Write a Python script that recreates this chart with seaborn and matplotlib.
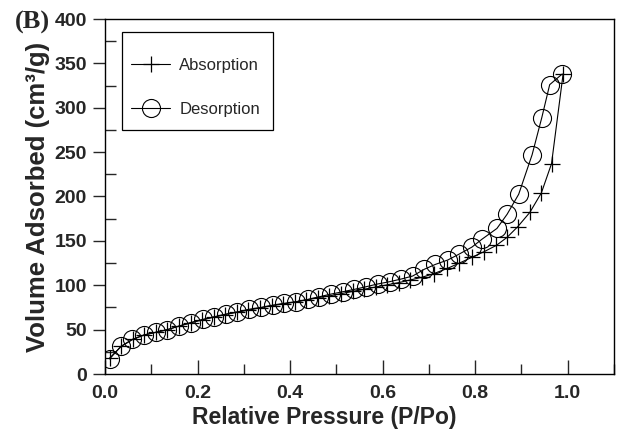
import matplotlib
matplotlib.use("Agg")
import matplotlib.pyplot as plt
import seaborn as sns
import pandas as pd
from matplotlib.ticker import MultipleLocator
from matplotlib.patches import Rectangle

# Data
abs_x = [0.01, 0.035, 0.06, 0.085, 0.11, 0.135, 0.16, 0.185, 0.21, 0.235,
         0.26, 0.285, 0.31, 0.335, 0.36, 0.385, 0.41, 0.435, 0.46, 0.485,
         0.51, 0.535, 0.56, 0.585, 0.61, 0.635, 0.66, 0.685, 0.71, 0.74,
         0.766, 0.793, 0.82, 0.846, 0.869, 0.892, 0.918, 0.943, 0.965, 0.99]
abs_y = [18, 31, 39, 44, 47, 50, 54, 57.5, 61, 64,
         67, 69.5, 72, 74.5, 77, 79, 81, 83.5, 86, 88,
         90.5, 93, 95.5, 98, 100.5, 103, 106, 109, 113, 119,
         125, 131.5, 138, 145, 154, 166, 182, 204, 237, 338]

des_x = [0.01, 0.034, 0.059, 0.084, 0.11, 0.135, 0.16, 0.185, 0.211, 0.236,
         0.261, 0.286, 0.312, 0.337, 0.362, 0.387, 0.413, 0.438, 0.463, 0.488,
         0.514, 0.539, 0.564, 0.589, 0.615, 0.64, 0.665, 0.69, 0.714, 0.741,
         0.765, 0.793, 0.815, 0.847, 0.869, 0.894, 0.923, 0.944, 0.961, 0.988]
des_y = [17, 31, 39, 44, 47, 50, 54, 58, 61.5, 64.5,
         67.5, 70, 73, 75, 77.5, 79.6, 81.5, 84, 87, 90,
         92.7, 95.4, 98.3, 101.4, 104, 107, 110.4, 118, 123.5, 128.5,
         135, 143, 152, 164, 180, 202.5, 247, 289, 326, 338]

series_labels = ["Absorption", "Desorption"]
x_label = "Relative Pressure (P/Po)"
y_label = "Volume Adsorbed (cm³/g)"
panel_label = "(B)"

df_abs = pd.DataFrame({"x": abs_x, "y": abs_y})
df_des = pd.DataFrame({"x": des_x, "y": des_y})

sns.set_style("ticks")
plt.rcParams["font.family"] = ["Liberation Sans", "DejaVu Sans"]

fig = plt.figure(figsize=(6.18, 4.36), dpi=100)
ax = fig.add_axes([105 / 618, 1 - 374 / 436, 509 / 618, 355 / 436])

sns.lineplot(data=df_abs, x="x", y="y", ax=ax, color="black", lw=0.8,
             marker="+", markersize=11, markeredgewidth=0.9,
             markeredgecolor="black",
             label=series_labels[0], errorbar=None)
sns.lineplot(data=df_des, x="x", y="y", ax=ax, color="black", lw=0.8,
             marker="o", markersize=13, markerfacecolor="none",
             markeredgecolor="black", markeredgewidth=0.8,
             label=series_labels[1], errorbar=None)

ax.set_xlim(0, 1.1)
ax.set_ylim(0, 400)
ax.xaxis.set_major_locator(MultipleLocator(0.2))
ax.xaxis.set_minor_locator(MultipleLocator(0.1))
ax.yaxis.set_major_locator(MultipleLocator(50))
ax.yaxis.set_minor_locator(MultipleLocator(25))
ax.set_xticks([0.0, 0.2, 0.4, 0.6, 0.8, 1.0])
ax.set_xticklabels(["0.0", "0.2", "0.4", "0.6", "0.8", "1.0"])

for s in ax.spines.values():
    s.set_linewidth(1.0)
    s.set_color("black")

ax.tick_params(axis="x", which="major", direction="in", length=10, width=1,
               labelsize=14, pad=8)
ax.tick_params(axis="x", which="minor", direction="in", length=7, width=1)
ax.tick_params(axis="y", which="major", direction="out", length=9, width=1,
               labelsize=14, pad=4)
ax.tick_params(axis="y", which="minor", direction="in", length=8, width=1)
for lab in ax.get_xticklabels() + ax.get_yticklabels():
    lab.set_fontweight("bold")

ax.set_xlabel(x_label, fontsize=16.5, fontweight="bold")
ax.xaxis.set_label_coords(0.43, -(417 - 374) / 355, transform=ax.transAxes)
ax.xaxis.label.set_va("center")
ax.set_ylabel(y_label, fontsize=18.5, fontweight="bold")
ax.yaxis.set_label_coords((50 - 105) / 509, 0.5)

# legend frame drawn separately so the padding can match the reference
ax.add_patch(Rectangle((17 / 509, 1 - 111 / 355), 151 / 509, 98 / 355,
                       transform=ax.transAxes, fill=False, edgecolor="black",
                       linewidth=0.9, zorder=5))
leg = ax.legend(loc="upper left", bbox_to_anchor=((131 - 105) / 509, 1 - 39 / 355),
                borderaxespad=0, borderpad=0, fontsize=12, frameon=False,
                labelspacing=1.75, handlelength=2.35, handletextpad=0.55)

fig.text(15 / 618, 1 - 22 / 436, panel_label, fontsize=19, fontweight="bold",
         family=["Liberation Serif", "DejaVu Serif"], va="center", ha="left")

fig.savefig("out.png", dpi=100)
